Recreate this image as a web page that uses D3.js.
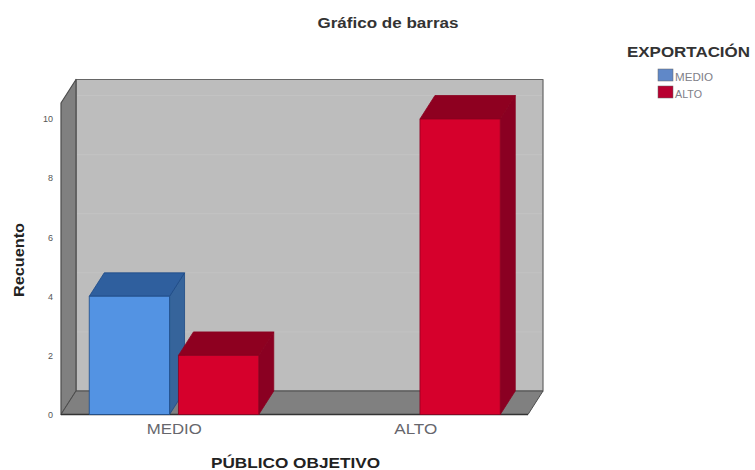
<!DOCTYPE html>
<html>
<head>
<meta charset="utf-8">
<script src="https://cdn.jsdelivr.net/npm/d3@7/dist/d3.min.js"></script>
<style>
html,body{margin:0;padding:0;background:#fff}
svg{display:block}
text{font-family:"Liberation Sans",Arial,sans-serif}
</style>
</head>
<body>
<svg id="chart" width="755" height="470"></svg>
<script>
// Counts by target audience, split by export level
const categories = ["MEDIO", "ALTO"];
const seriesNames = ["MEDIO", "ALTO"];
const medioValues = [4, 0];
const altoValues = [2, 10];
const countTicks = [0, 2, 4, 6, 8, 10];

const chartTitle = "Gráfico de barras";
const yTitle = "Recuento";
const xTitle = "PÚBLICO OBJETIVO";
const legendTitle = "EXPORTACIÓN";

const faces = {
  MEDIO: {front: "#5393e3", top: "#2f5f9e", side: "#36649b", line: "#1d4a86", key: "#6088c8"},
  ALTO: {front: "#d6002c", top: "#8e0020", side: "#8a0022", line: "#8a0020", key: "#b80030"}
};

const svg = d3.select("#chart");

// Oblique projection offset of the box depth
const depth = {x: 15, y: -23.5};
const floorY = 414.5;
const frontLeft = 61, frontRight = 528;

const y = d3.scaleLinear().domain([0, 10]).range([floorY, 119]);
const x0 = d3.scaleBand().domain(categories).range([53.5, 536.5]);
const x1 = d3.scaleBand().domain(seriesNames).range([35.75, 205.25]).paddingInner(0.1).paddingOuter(0);

const poly = (pts, fill, stroke, width) => svg.append("polygon")
  .attr("points", pts.map(p => p.join(",")).join(" "))
  .attr("fill", fill)
  .attr("stroke", stroke || "none")
  .attr("stroke-width", width || 0)
  .attr("stroke-linejoin", "round");

// Widens a label to a set run length, glyphs included
const stretch = (sel, len) => sel.attr("textLength", len).attr("lengthAdjust", "spacingAndGlyphs");

const topY = 103;
const wallColor = "#bdbdbd", shadeColor = "#808080", edgeColor = "#4d4d4d";

// Back wall, left wall and floor of the plot box
poly([[frontLeft + depth.x, topY + depth.y], [frontRight + depth.x, topY + depth.y],
      [frontRight + depth.x, floorY + depth.y], [frontLeft + depth.x, floorY + depth.y]],
     wallColor, "#666", 1.2);

svg.append("g").selectAll("line").data(countTicks.filter(d => d > 0)).join("line")
  .attr("x1", frontLeft + depth.x + 1).attr("x2", frontRight + depth.x - 1)
  .attr("y1", d => y(d) + depth.y).attr("y2", d => y(d) + depth.y)
  .attr("stroke", "#c3c3c3").attr("stroke-width", 1);

poly([[frontLeft, topY], [frontLeft + depth.x, topY + depth.y],
      [frontLeft + depth.x, floorY + depth.y], [frontLeft, floorY]],
     shadeColor, edgeColor, 1.2);
poly([[frontLeft, floorY], [frontLeft + depth.x, floorY + depth.y],
      [frontRight + depth.x, floorY + depth.y], [frontRight, floorY]],
     shadeColor, edgeColor, 1);

// Front edge of the floor sits a little heavier
svg.append("line")
  .attr("x1", frontLeft).attr("x2", frontRight).attr("y1", floorY).attr("y2", floorY)
  .attr("stroke", "#333").attr("stroke-width", 1.3);

// Extruded bars, later series overlapping the earlier ones
const rows = [];
categories.forEach((c, i) => {
  rows.push({cat: c, series: "MEDIO", value: medioValues[i]});
  rows.push({cat: c, series: "ALTO", value: altoValues[i]});
});

rows.filter(d => d.value > 0).forEach(d => {
  const l = x0(d.cat) + x1(d.series);
  const r = l + x1.bandwidth();
  const t = y(d.value);
  const f = faces[d.series];
  poly([[r, t], [r + depth.x, t + depth.y], [r + depth.x, floorY + depth.y], [r, floorY]], f.side, f.line, 0.8);
  poly([[l, t], [l + depth.x, t + depth.y], [r + depth.x, t + depth.y], [r, t]], f.top, f.line, 0.8);
  poly([[l, t], [r, t], [r, floorY], [l, floorY]], f.front, f.line, 0.8);
});

// Value axis
const yAxis = svg.append("g")
  .attr("transform", `translate(${frontLeft},0)`)
  .call(d3.axisLeft(y).tickValues(countTicks).tickSize(0).tickPadding(8));
yAxis.select(".domain").remove();
yAxis.selectAll("text").attr("font-size", 9).attr("fill", "#555")
  .style("font-family", '"Liberation Sans",Arial,sans-serif');

// Category axis
const xAxis = svg.append("g")
  .attr("transform", `translate(0,${floorY})`)
  .call(d3.axisBottom(x0).tickSize(0).tickPadding(9));
xAxis.select(".domain").remove();
xAxis.selectAll("text").attr("font-size", 15).attr("fill", "#66666c")
  .style("font-family", '"Liberation Sans",Arial,sans-serif')
  .attr("textLength", d => d === "MEDIO" ? 55 : 43)
  .attr("lengthAdjust", "spacingAndGlyphs");

// Titles
stretch(svg.append("text").attr("x", 388).attr("y", 28).attr("text-anchor", "middle")
  .attr("font-size", 14).attr("font-weight", "bold").attr("fill", "#333").text(chartTitle), 141);
stretch(svg.append("text").attr("transform", "translate(24,260) rotate(-90)").attr("text-anchor", "middle")
  .attr("font-size", 14).attr("font-weight", "bold").attr("fill", "#222").text(yTitle), 74);
stretch(svg.append("text").attr("x", 295.5).attr("y", 468).attr("text-anchor", "middle")
  .attr("font-size", 14).attr("font-weight", "bold").attr("fill", "#222").text(xTitle), 169);

// Legend
stretch(svg.append("text").attr("x", 627).attr("y", 57)
  .attr("font-size", 15).attr("font-weight", "bold").attr("fill", "#333").text(legendTitle), 123);
const legendRow = d3.scaleBand().domain(seriesNames).range([69, 103]);
const legend = svg.append("g").selectAll("g").data(seriesNames).join("g")
  .attr("transform", d => `translate(658,${legendRow(d)})`);
legend.append("rect").attr("width", 15).attr("height", 12)
  .attr("fill", d => faces[d].key)
  .attr("stroke", "#666").attr("stroke-width", 0.5);
legend.append("text").attr("x", 17).attr("y", 11.5)
  .attr("font-size", 11).attr("fill", "#808088")
  .attr("textLength", d => d === "MEDIO" ? 38 : 27)
  .attr("lengthAdjust", "spacingAndGlyphs")
  .text(d => d);
</script>
</body>
</html>
